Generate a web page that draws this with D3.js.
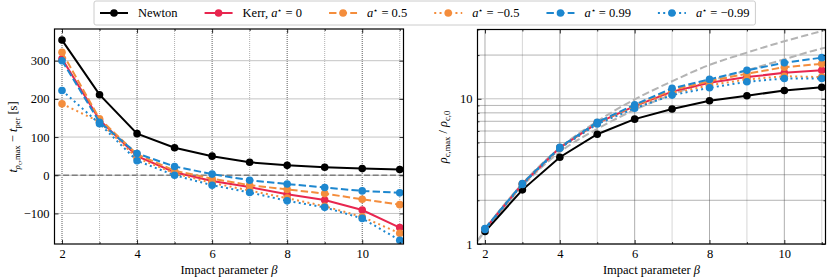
<!DOCTYPE html>
<html>
<head>
<meta charset="utf-8">
<script src="https://cdn.jsdelivr.net/npm/d3@7"></script>
<style>
body { margin: 0; background: #fff; }
text { font-family: "Liberation Serif", "DejaVu Serif", serif; fill: #000; }
</style>
</head>
<body>
<svg id="fig" width="830" height="279"></svg>
<script>
// impact parameters
const beta = [2, 3, 4, 5, 6, 7, 8, 9, 10, 11];

// left panel: t_rho_c,max - t_per [s]
const dtNewton = [354, 211, 109, 72, 50, 34, 26, 21, 17.5, 15];
const dtKerr0 = [305, 145, 50, 8, -15, -31, -50, -65, -91, -137];
const dtKerr05 = [322, 148, 55, 12, -9, -26, -37, -48, -63, -77];
const dtKerrM05 = [187, 140, 45, 5, -20, -40, -60, -81, -109, -152];
const dtKerr099 = [300, 139, 57, 23, 3, -13, -23, -32, -41, -46];
const dtKerrM099 = [222, 135, 38, 0, -26, -45, -67, -84, -113, -170];

// right panel: rho_c,max / rho_c,0
const rhoNewton = [1.22, 2.36, 3.96, 5.7, 7.24, 8.5, 9.7, 10.5, 11.4, 12.0];
const rhoKerr0 = [1.27, 2.59, 4.6, 6.8, 8.9, 11.2, 12.9, 14.1, 15.1, 15.7];
const rhoKerr05 = [1.27, 2.6, 4.62, 6.85, 9.0, 11.5, 13.2, 14.9, 16.5, 17.4];
const rhoKerrM05 = [1.27, 2.58, 4.58, 6.75, 8.8, 10.9, 12.4, 13.6, 14.3, 14.1];
const rhoKerr099 = [1.28, 2.61, 4.64, 6.9, 9.1, 11.8, 13.6, 15.7, 17.7, 19.2];
const rhoKerrM099 = [1.26, 2.57, 4.56, 6.7, 8.6, 10.6, 11.9, 13.1, 13.8, 13.8];

// grey reference curves in the right panel
const refBeta = [1.8, 2, 3, 4, 5, 6, 7, 8, 9, 10, 11, 11.1];
const refUpper = [1.05, 1.25, 2.6, 4.6, 7.0, 9.9, 13.2, 17.1, 20.8, 24.9, 29.3, 29.8];
const refLower = [1.05, 1.22, 2.5, 4.3, 6.2, 8.4, 10.7, 13.2, 15.7, 18.7, 22.2, 22.5];

const legendNames = ["Newton", "Kerr, ", "", "", "", ""];
const spinLabels = [null, "0", "0.5", "\u22120.5", "0.99", "\u22120.99"];

const serif = "Liberation Serif, DejaVu Serif, serif";
const red = "#e8264f", orange = "#f48d3c", blue = "#1d87cf";
const styles = [
    {color: "#000", dash: null},
    {color: red, dash: null},
    {color: orange, dash: "7.4,3.2"},
    {color: orange, dash: "2,3.3"},
    {color: blue, dash: "7.4,3.2"},
    {color: blue, dash: "2,3.3"}
];

const leftSeries = [dtNewton, dtKerr0, dtKerr05, dtKerrM05, dtKerr099, dtKerrM099];
const rightSeries = [rhoNewton, rhoKerr0, rhoKerr05, rhoKerrM05, rhoKerr099, rhoKerrM099];

const svg = d3.select("#fig");

function drawPanel(opts) {
    var g = svg.append("g");
    var x = d3.scaleLinear().domain([1.8, 11.1]).range([opts.x0, opts.x1]);
    var y = opts.y;

    // vertical grid
    [3, 5, 7, 9, 11].forEach(v => {
        g.append("line").attr("x1", x(v)).attr("x2", x(v))
            .attr("y1", opts.y0).attr("y2", opts.y1)
            .attr("stroke", "#9a9a9a").attr("stroke-width", 0.8).attr("stroke-dasharray", "1,1");
    });
    [2, 4, 6, 8, 10].forEach(v => {
        g.append("line").attr("x1", x(v)).attr("x2", x(v))
            .attr("y1", opts.y0).attr("y2", opts.y1)
            .attr("stroke", "#333").attr("stroke-width", 0.8).attr("stroke-dasharray", "1,1");
    });
    // horizontal grid
    opts.minorY.forEach(v => {
        g.append("line").attr("x1", opts.x0).attr("x2", opts.x1)
            .attr("y1", y(v)).attr("y2", y(v))
            .attr("stroke", "#444").attr("stroke-width", 0.8).attr("stroke-dasharray", "1,1");
    });
    opts.majorY.forEach(v => {
        g.append("line").attr("x1", opts.x0).attr("x2", opts.x1)
            .attr("y1", y(v)).attr("y2", y(v))
            .attr("stroke", "#c4c4c4").attr("stroke-width", 1);
    });

    if (opts.extra) opts.extra(g, x, y);

    // series
    opts.series.forEach((s, k) => {
        var pts = beta.map((b, i) => [b, s[i]]);
        var line = d3.line().x(d => x(d[0])).y(d => y(d[1]));
        g.append("path").datum(pts)
            .attr("d", line)
            .attr("fill", "none")
            .attr("stroke", styles[k].color)
            .attr("stroke-width", 2)
            .attr("stroke-dasharray", styles[k].dash);
        g.selectAll(null).data(pts).enter().append("circle")
            .attr("cx", d => x(d[0])).attr("cy", d => y(d[1]))
            .attr("r", 3.8).attr("fill", styles[k].color);
    });

    // axes with inward ticks
    var axes = [];
    axes.push(g.append("g").attr("transform", "translate(0," + opts.y1 + ")")
        .call(d3.axisBottom(x).tickValues([2, 4, 6, 8, 10]).tickSize(-4).tickPadding(5).tickFormat(d3.format("d"))));
    axes.push(g.append("g").attr("transform", "translate(0," + opts.y1 + ")")
        .call(d3.axisBottom(x).tickValues([3, 5, 7, 9, 11]).tickSize(-2).tickFormat("")));
    axes.push(g.append("g").attr("transform", "translate(0," + opts.y0 + ")")
        .call(d3.axisTop(x).tickValues([2, 4, 6, 8, 10]).tickSize(-4).tickFormat("")));
    axes.push(g.append("g").attr("transform", "translate(0," + opts.y0 + ")")
        .call(d3.axisTop(x).tickValues([3, 5, 7, 9, 11]).tickSize(-2).tickFormat("")));
    axes.push(g.append("g").attr("transform", "translate(" + opts.x0 + ",0)")
        .call(d3.axisLeft(y).tickValues(opts.majorY).tickSize(-4).tickPadding(5).tickFormat(opts.fmt)));
    axes.push(g.append("g").attr("transform", "translate(" + opts.x1 + ",0)")
        .call(d3.axisRight(y).tickValues(opts.majorY).tickSize(-4).tickFormat("")));
    if (opts.minorY.length) {
        axes.push(g.append("g").attr("transform", "translate(" + opts.x0 + ",0)")
            .call(d3.axisLeft(y).tickValues(opts.minorY).tickSize(-2).tickFormat("")));
        axes.push(g.append("g").attr("transform", "translate(" + opts.x1 + ",0)")
            .call(d3.axisRight(y).tickValues(opts.minorY).tickSize(-2).tickFormat("")));
    }
    axes.forEach(a => a.attr("font-family", serif).attr("font-size", 12.5));
    g.selectAll(".domain").remove();
    g.selectAll(".tick line").attr("stroke", "#000").attr("stroke-width", 0.8);
    g.selectAll(".tick text").attr("fill", "#000");

    // frame
    g.append("rect").attr("x", opts.x0).attr("y", opts.y0)
        .attr("width", opts.x1 - opts.x0).attr("height", opts.y1 - opts.y0)
        .attr("fill", "none").attr("stroke", "#000").attr("stroke-width", 1.2);

    // x label
    var xl = g.append("text").attr("x", (opts.x0 + opts.x1) / 2).attr("y", 274)
        .attr("text-anchor", "middle").style("font-size", "12.5px");
    xl.append("tspan").text("Impact parameter ");
    xl.append("tspan").attr("font-style", "italic").text("\u03b2");
    return g;
}

// left panel
var yLeft = d3.scaleLinear().domain([-180, 383]).range([244, 29]);
drawPanel({
    x0: 54.5, x1: 403.5, y0: 29, y1: 244,
    y: yLeft,
    majorY: [-100, 0, 100, 200, 300],
    minorY: [],
    fmt: d => d < 0 ? "\u2212" + Math.abs(d) : d,
    series: leftSeries,
    extra: (g, x, y) => {
        g.append("line").attr("x1", 54.5).attr("x2", 403.5)
            .attr("y1", y(0)).attr("y2", y(0))
            .attr("stroke", "#7f7f7f").attr("stroke-width", 1.6).attr("stroke-dasharray", "6,2.6");
    }
});

// right panel
var yRight = d3.scaleLog().domain([1, 30]).range([244, 29.5]);
drawPanel({
    x0: 477.5, x1: 825.5, y0: 29.5, y1: 244,
    y: yRight,
    majorY: [1, 10],
    minorY: [2, 3, 4, 5, 6, 7, 8, 9, 20, 30],
    fmt: d3.format("d"),
    series: rightSeries,
    extra: (g, x, y) => {
        [refUpper, refLower].forEach(r => {
            var pts = refBeta.map((b, i) => [b, r[i]]);
            g.append("path").datum(pts)
                .attr("d", d3.line().x(d => x(d[0])).y(d => y(d[1])).curve(d3.curveMonotoneX))
                .attr("fill", "none").attr("stroke", "#b4b4b4")
                .attr("stroke-width", 2).attr("stroke-dasharray", "7.4,3.2");
        });
    }
});

// y labels
var ylL = svg.append("text").attr("transform", "translate(17,137) rotate(-90)")
    .attr("text-anchor", "middle").style("font-size", "12.5px");
ylL.append("tspan").attr("font-style", "italic").text("t");
ylL.append("tspan").attr("font-style", "italic").attr("font-size", "8.5px").attr("dy", 3).text("\u03c1");
ylL.append("tspan").attr("font-size", "6.5px").attr("dy", 1.5).text("c");
ylL.append("tspan").attr("font-size", "8.5px").attr("dy", -1.5).text(",max");
ylL.append("tspan").attr("dy", -3).text(" \u2212 ");
ylL.append("tspan").attr("font-style", "italic").text("t");
ylL.append("tspan").attr("font-size", "8.5px").attr("dy", 3).text("per");
ylL.append("tspan").attr("dy", -3).text(" [s]");

var ylR = svg.append("text").attr("transform", "translate(447,137) rotate(-90)")
    .attr("text-anchor", "middle").style("font-size", "12.5px");
ylR.append("tspan").attr("font-style", "italic").text("\u03c1");
ylR.append("tspan").attr("font-size", "8.5px").attr("dy", 3).text("c,max");
ylR.append("tspan").attr("dy", -3).text(" / ");
ylR.append("tspan").attr("font-style", "italic").text("\u03c1");
ylR.append("tspan").attr("font-size", "8.5px").attr("dy", 3).text("c,0");

// legend
var leg = svg.append("g");
var legBox = leg.append("rect").attr("y", 1).attr("height", 24).attr("rx", 2)
    .attr("fill", "#fff").attr("stroke", "#cccccc").attr("stroke-width", 1);
var lx = 100;
styles.forEach((s, k) => {
    leg.append("line").attr("x1", lx).attr("x2", lx + 28).attr("y1", 13).attr("y2", 13)
        .attr("stroke", s.color).attr("stroke-width", 2).attr("stroke-dasharray", s.dash);
    leg.append("circle").attr("cx", lx + 14).attr("cy", 13).attr("r", 3.8).attr("fill", s.color);
    var t = leg.append("text").attr("x", lx + 38).attr("y", 17).style("font-size", "12.5px");
    t.append("tspan").text(legendNames[k]);
    if (spinLabels[k] !== null) {
        t.append("tspan").attr("font-style", "italic").text("a");
        t.append("tspan").attr("font-size", "8px").attr("dy", -4).text("\u22c6");
        t.append("tspan").attr("dy", 4).text(" = " + spinLabels[k]);
    }
    lx += 38 + t.node().getComputedTextLength() + 27;
});
legBox.attr("x", 94).attr("width", lx - 27 + 6 - 94);
</script>
</body>
</html>
